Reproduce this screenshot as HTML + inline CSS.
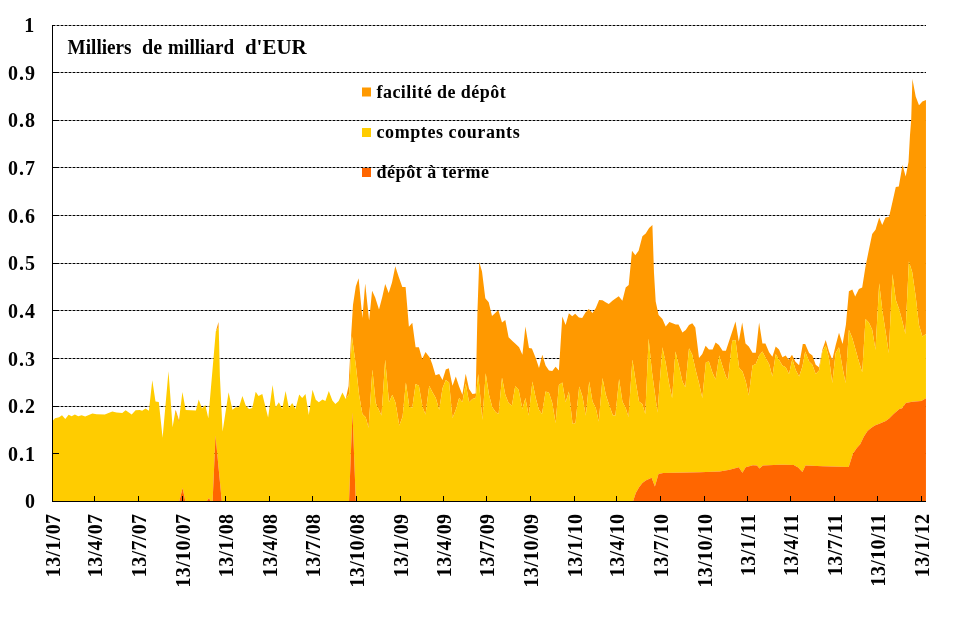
<!DOCTYPE html>
<html><head><meta charset="utf-8"><title>chart</title>
<style>
html,body{margin:0;padding:0;background:#fff;}
body{width:964px;height:620px;overflow:hidden;font-family:"Liberation Serif",serif;}
svg{display:block;}
text{font-family:"Liberation Serif",serif;font-weight:bold;fill:#000;}
</style></head><body>
<svg width="964" height="620" viewBox="0 0 964 620">
<rect width="964" height="620" fill="#fff"/>

<g stroke="#d4d4d4" stroke-width="1" shape-rendering="crispEdges">
<line x1="52.5" y1="25.5" x2="926" y2="25.5"/>
<line x1="52.5" y1="72.5" x2="926" y2="72.5"/>
<line x1="52.5" y1="120.5" x2="926" y2="120.5"/>
<line x1="52.5" y1="167.5" x2="926" y2="167.5"/>
<line x1="52.5" y1="215.5" x2="926" y2="215.5"/>
<line x1="52.5" y1="263.5" x2="926" y2="263.5"/>
<line x1="52.5" y1="310.5" x2="926" y2="310.5"/>
<line x1="52.5" y1="358.5" x2="926" y2="358.5"/>
<line x1="52.5" y1="406.5" x2="926" y2="406.5"/>
<line x1="52.5" y1="453.5" x2="926" y2="453.5"/>
</g>
<g stroke="#000" stroke-width="1" stroke-dasharray="2.6 1.4">
<line x1="52.7" y1="25.5" x2="926" y2="25.5"/>
<line x1="52.7" y1="72.5" x2="926" y2="72.5"/>
<line x1="52.7" y1="120.5" x2="926" y2="120.5"/>
<line x1="52.7" y1="167.5" x2="926" y2="167.5"/>
<line x1="52.7" y1="215.5" x2="926" y2="215.5"/>
<line x1="52.7" y1="263.5" x2="926" y2="263.5"/>
<line x1="52.7" y1="310.5" x2="926" y2="310.5"/>
<line x1="52.7" y1="358.5" x2="926" y2="358.5"/>
<line x1="52.7" y1="406.5" x2="926" y2="406.5"/>
<line x1="52.7" y1="453.5" x2="926" y2="453.5"/>
</g>
<polygon fill="#FF9900" points="345.7,398.9 348.6,386 351.2,334.5 353,304.8 355.8,286.6 358.6,278.3 362.4,318.1 365.2,283.6 369.1,320.6 372.1,290.7 375.2,297.4 379,309.5 382.4,296.5 385.2,284.1 388.7,292.9 392,282.4 395.3,266.3 398.6,276.6 402.3,287.1 405.6,287.1 408.9,326.8 412.3,322.8 415.6,347.2 418.9,347.2 422.2,359.1 425.5,352 429.7,357.4 432.2,364.1 435.5,375.2 439.2,374 442.5,379.9 445.8,369.6 448.8,368.2 452.5,385.7 455.8,376.5 459.1,386.5 462.4,394.8 465.7,373.7 469.1,389 472.4,394 475.7,393.5 477.5,309.8 479.2,262 482,271.6 485.3,298.2 488.7,302.3 492,316 495.2,313 498.3,309.9 502,322.4 505.3,319.9 508.6,337.3 512.4,341.1 515.7,344 519.1,347.3 522.4,354.8 525.4,326.5 529,348.1 531.9,348.4 535.7,358.1 539,368 542.3,354.8 545.6,365.5 549,370.5 552.3,371 555.6,366.7 558.9,370.5 562.3,316.5 565.6,324.9 568.9,313.2 572.2,316.2 575.2,313.7 578.9,317.4 582.2,317.9 585.5,312.4 588.8,309.1 592.5,312.9 595.8,307.9 599.1,299.9 602.5,300.3 605.6,302.2 608.8,304.1 612.4,300.8 615.5,298.5 618.7,296.3 622.4,300.8 625.7,287.5 628.7,285 632,250.7 635.3,255.2 638.6,250.7 642.4,236.3 645.7,233.6 649.1,228 652.4,225 654,273 655.7,301.4 658.6,315 662.4,319.1 665.7,326.6 669.4,321.9 675.7,324.6 678.5,324.6 682.4,332.4 685.7,329.9 689,324.9 692.3,323.3 695.3,327.4 699,358.1 702.3,354 705.6,345.7 708.9,349.5 712.6,349.5 715.6,342.4 718.9,344.9 722.6,350.7 725.9,350.7 735.5,321.6 738.8,341.5 742.2,322.4 745.5,343.5 748.8,346.5 752.5,352.8 755.8,352.8 759.1,322.4 762.4,343.5 765.4,343.5 769.1,352.3 772.4,356.8 775.7,346.5 779,349.5 782.4,357.3 785.7,355.6 788.7,359.8 792,354.8 795.3,361.5 799.1,365.3 802.8,344 805.2,344 809.1,353.1 812.4,355.6 815.7,364.7 819,367.2 822.4,349.8 825.7,340.1 829,351.4 832.3,359.7 835.6,345.6 839,332.8 842.6,343.9 845.9,324.8 848.9,291.3 852.3,289.6 855.2,296.6 858.9,289.1 862.2,287.5 865.5,266.4 868.9,249.8 872.2,234 875.5,229.8 879.2,217.5 882.2,224.9 885.5,217.4 889.1,216.8 892.5,201.8 895.8,187 898.8,186.4 902.5,165 905.7,176.5 908.5,162 910,135 911.2,119.8 912.4,79.1 915.7,96.6 919,105.2 922.4,101.6 925.95,99.9 925.95,334 922.4,336.5 919,324.9 915.7,296.6 912.2,272 908.9,261.4 905.4,334 902.4,321.5 899.1,309 895.8,300 892.5,273.9 888.8,353.1 885.8,333.1 882.5,311.6 879.2,283.3 875.5,349.8 872.2,329.8 868.9,322.4 865.5,319 862.2,372.2 858.9,361.4 855.6,349.8 852.3,338.1 848.9,329.8 845.6,383 842.3,366.4 839,347.3 835.6,353.1 832.3,383 829,358.1 825.7,345.6 822.4,351.4 819,370.5 815.7,373.9 812.4,364.7 809.1,361.4 805.2,351.4 802.4,366.4 799.1,376.4 795.6,369.8 792.3,359 789,373.9 785.7,367.3 782.4,365.6 779,359.8 775.7,354 772.4,376.4 769.1,364 765.7,358.1 762.4,351.5 759.1,355.6 755.8,364 752.5,365.6 748.8,395.5 745.8,381.4 742.5,371.4 739.2,368.1 735.5,339.9 732.2,340.7 728,379.7 725.9,376.4 722.6,366.4 719.2,355.6 715.6,379.4 712.6,373.1 708.9,361.5 705.9,362.3 702.3,398 699,383 695.6,369.8 692.3,354.8 689,348.2 685.3,387.2 682.4,381.4 678.7,364.8 675.4,351.5 672.1,398 669,383 665.7,363.1 662.4,347.3 657.5,412.5 652,372 648.6,338.6 645.3,414 642.3,404 639,401.5 635.7,381.5 632.4,359.6 628.5,417 625.7,408.1 622.4,401.5 619.1,379 615.4,415.6 612.9,415.6 609.1,404.8 605.8,394.8 602.5,377.9 598.8,421.4 595.8,408.1 592.5,401.5 589.2,381.5 585.8,415.6 582.5,396.5 579.2,386.5 575.5,423.1 572.6,423.9 568.9,391.5 565.6,402.3 562.3,382.4 558.9,384.9 555.6,423.1 552.3,403.1 549,392.8 545.6,391.5 542,413.9 539,409.8 535.7,398.1 532.4,381.5 528.7,415.6 525.4,398.1 522.4,408.9 518.6,389.8 515.2,386.2 511.9,405.6 508.6,403.1 505.3,394.8 502,377.4 498.6,413.9 495.8,412.3 492.3,407.3 489,394.8 485.7,373.2 482.4,419.7 478.2,374.1 475.7,398.1 472.4,399 469.1,402.3 465.7,383.5 462.4,402.3 459.1,398.1 455.8,409.8 452.5,418.1 449.1,382.4 445.8,379.9 442.5,388.2 439.2,409.8 435.8,398.1 432.5,392.3 429.2,385.7 425.5,414.4 422.6,407.3 418.9,385.7 415.6,384 412.3,407.8 409.3,406.4 405.9,382.4 402.6,416.4 399.3,425.5 395.6,403.1 392.3,394.8 389,402.3 385.2,359.6 381.5,415.6 378.5,409 375.7,403.1 372.4,369.6 368.6,427.7 365.7,417.2 362.4,413.9 359.1,394.8 355.8,365 351.9,336 349.1,394 345.7,398.9"/>
<polygon fill="#FF9900" points="215.8,331.6 218.5,322 219.9,376.4 218.7,327"/>
<polygon fill="#FFCC00" points="52.5,501.5 52.5,421 55,418.2 59.1,417.3 62,415.3 65.3,419 68.6,414.8 71.6,416.2 74.9,414.5 78.2,416.2 81.6,415.2 85.2,416.5 92.4,413.5 96.5,414.3 104.8,414.5 112.3,411.5 116.5,412.5 122.3,412.9 125.6,410.2 131.7,414.5 135.6,410.2 139.7,409.9 142.2,410.7 145.5,408.5 148.9,410.7 152.3,380.3 155.5,401.6 158.8,401.9 162.6,437.8 168.5,371.3 172.6,427.3 175.4,410.7 178.8,421.5 182.4,391.9 185.7,409.9 195.9,410.4 198.7,399.6 202,408.5 205.3,404.9 208.3,418.3 215.8,331.6 218.7,327 219.9,376.5 222.6,431.6 228.6,392.2 232.4,409.7 235.7,407.2 239,407.2 242.4,396.1 245.7,405.5 249,408.9 252.3,408 255.7,391.7 258.5,396.1 262.3,393.9 268.1,417.4 272.6,385.1 275.6,407.2 278.9,402.2 282.2,408.9 285.6,390.9 288.9,408 292.2,403 295.5,408.9 299.2,394.4 302.2,398.1 305.5,393.9 308.8,415 312.5,389.8 315.8,399.7 318.8,402.2 322.5,399.4 325.4,401 328.8,391.1 332.4,400.6 335.4,403.9 338.7,401 342.4,392.6 345.7,398.9 349.1,394 351.9,336 355.8,365 359.1,394.8 362.4,413.9 365.7,417.2 368.6,427.7 372.4,369.6 375.7,403.1 378.5,409 381.5,415.6 385.2,359.6 389,402.3 392.3,394.8 395.6,403.1 399.3,425.5 402.6,416.4 405.9,382.4 409.3,406.4 412.3,407.8 415.6,384 418.9,385.7 422.6,407.3 425.5,414.4 429.2,385.7 432.5,392.3 435.8,398.1 439.2,409.8 442.5,388.2 445.8,379.9 449.1,382.4 452.5,418.1 455.8,409.8 459.1,398.1 462.4,402.3 465.7,383.5 469.1,402.3 472.4,399 475.7,398.1 478.2,374.1 482.4,419.7 485.7,373.2 489,394.8 492.3,407.3 495.8,412.3 498.6,413.9 502,377.4 505.3,394.8 508.6,403.1 511.9,405.6 515.2,386.2 518.6,389.8 522.4,408.9 525.4,398.1 528.7,415.6 532.4,381.5 535.7,398.1 539,409.8 542,413.9 545.6,391.5 549,392.8 552.3,403.1 555.6,423.1 558.9,384.9 562.3,382.4 565.6,402.3 568.9,391.5 572.6,423.9 575.5,423.1 579.2,386.5 582.5,396.5 585.8,415.6 589.2,381.5 592.5,401.5 595.8,408.1 598.8,421.4 602.5,377.9 605.8,394.8 609.1,404.8 612.9,415.6 615.4,415.6 619.1,379 622.4,401.5 625.7,408.1 628.5,417 632.4,359.6 635.7,381.5 639,401.5 642.3,404 645.3,414 648.6,338.6 652,372 657.5,412.5 662.4,347.3 665.7,363.1 669,383 672.1,398 675.4,351.5 678.7,364.8 682.4,381.4 685.3,387.2 689,348.2 692.3,354.8 695.6,369.8 699,383 702.3,398 705.9,362.3 708.9,361.5 712.6,373.1 715.6,379.4 719.2,355.6 722.6,366.4 725.9,376.4 728,379.7 732.2,340.7 735.5,339.9 739.2,368.1 742.5,371.4 745.8,381.4 748.8,395.5 752.5,365.6 755.8,364 759.1,355.6 762.4,351.5 765.7,358.1 769.1,364 772.4,376.4 775.7,354 779,359.8 782.4,365.6 785.7,367.3 789,373.9 792.3,359 795.6,369.8 799.1,376.4 802.4,366.4 805.2,351.4 809.1,361.4 812.4,364.7 815.7,373.9 819,370.5 822.4,351.4 825.7,345.6 829,358.1 832.3,383 835.6,353.1 839,347.3 842.3,366.4 845.6,383 848.9,329.8 852.3,338.1 855.6,349.8 858.9,361.4 862.2,372.2 865.5,319 868.9,322.4 872.2,329.8 875.5,349.8 879.2,283.3 882.5,311.6 885.8,333.1 888.8,353.1 892.5,273.9 895.8,300 899.1,309 902.4,321.5 905.4,334 908.9,261.4 912.2,272 915.7,296.6 919,324.9 922.4,336.5 925.95,334 925.95,398.2 921.3,400.9 912.2,401.8 905.8,403.1 902.1,408.2 899.4,409.1 893.9,413.7 889.4,418.2 885.7,421 879.3,423.7 874.8,425.5 871.1,427.9 867.5,431 863.9,436.5 860.2,444.3 856.6,448.3 852.9,453.8 848.7,466.9 822.9,466.2 805.5,465.6 802.4,472 798.2,467.5 793.7,465.1 783.7,464.7 779.1,464.8 762.9,465.6 759.5,468.4 757,465.6 752.9,465.3 745.7,467.3 742.4,472.8 738.8,467.3 729.6,469.8 719.7,471.4 699.7,472.3 663.2,473.1 658.5,473.9 654.9,486.4 651.6,477.7 645.7,480.6 642.4,483.1 639.1,487.2 635.8,493 633,501.5 355.8,501.5 352.5,412.5 349,501.5 221.8,501.5 215.5,435.4 212.6,501.5 211,501.5 208.9,498 206.6,501.5 185.4,501.5 182.6,488.1 179.2,501.5"/>
<line x1="175.5" y1="410.6" x2="178.9" y2="421.3" stroke="#FF9900" stroke-width="0.8"/>
<polygon fill="#FF6600" points="179.2,501.5 182.6,488.1 185.4,501.5 206.6,501.5 208.9,498 211,501.5 212.6,501.5 215.5,435.4 221.8,501.5 349,501.5 352.5,412.5 355.8,501.5 633,501.5 635.8,493 639.1,487.2 642.4,483.1 645.7,480.6 651.6,477.7 654.9,486.4 658.5,473.9 663.2,473.1 699.7,472.3 719.7,471.4 729.6,469.8 738.8,467.3 742.4,472.8 745.7,467.3 752.9,465.3 757,465.6 759.5,468.4 762.9,465.6 779.1,464.8 783.7,464.7 793.7,465.1 798.2,467.5 802.4,472 805.5,465.6 822.9,466.2 848.7,466.9 852.9,453.8 856.6,448.3 860.2,444.3 863.9,436.5 867.5,431 871.1,427.9 874.8,425.5 879.3,423.7 885.7,421 889.4,418.2 893.9,413.7 899.4,409.1 902.1,408.2 905.8,403.1 912.2,401.8 921.3,400.9 925.95,398.2 925.95,501.5"/>
<g stroke="#000" stroke-width="1" shape-rendering="crispEdges">
<line x1="52.5" y1="25" x2="52.5" y2="502"/>
<line x1="52" y1="501.5" x2="926" y2="501.5"/>
<line x1="52.5" y1="72.5" x2="58.5" y2="72.5"/>
<line x1="52.5" y1="120.5" x2="58.5" y2="120.5"/>
<line x1="52.5" y1="167.5" x2="58.5" y2="167.5"/>
<line x1="52.5" y1="215.5" x2="58.5" y2="215.5"/>
<line x1="52.5" y1="263.5" x2="58.5" y2="263.5"/>
<line x1="52.5" y1="310.5" x2="58.5" y2="310.5"/>
<line x1="52.5" y1="358.5" x2="58.5" y2="358.5"/>
<line x1="52.5" y1="406.5" x2="58.5" y2="406.5"/>
<line x1="52.5" y1="453.5" x2="58.5" y2="453.5"/>
<line x1="94.5" y1="501.5" x2="94.5" y2="495.5"/>
<line x1="138.5" y1="501.5" x2="138.5" y2="495.5"/>
<line x1="182.5" y1="501.5" x2="182.5" y2="495.5"/>
<line x1="225.5" y1="501.5" x2="225.5" y2="495.5"/>
<line x1="269.5" y1="501.5" x2="269.5" y2="495.5"/>
<line x1="312.5" y1="501.5" x2="312.5" y2="495.5"/>
<line x1="356.5" y1="501.5" x2="356.5" y2="495.5"/>
<line x1="400.5" y1="501.5" x2="400.5" y2="495.5"/>
<line x1="443.5" y1="501.5" x2="443.5" y2="495.5"/>
<line x1="486.5" y1="501.5" x2="486.5" y2="495.5"/>
<line x1="530.5" y1="501.5" x2="530.5" y2="495.5"/>
<line x1="574.5" y1="501.5" x2="574.5" y2="495.5"/>
<line x1="616.5" y1="501.5" x2="616.5" y2="495.5"/>
<line x1="660.5" y1="501.5" x2="660.5" y2="495.5"/>
<line x1="704.5" y1="501.5" x2="704.5" y2="495.5"/>
<line x1="747.5" y1="501.5" x2="747.5" y2="495.5"/>
<line x1="790.5" y1="501.5" x2="790.5" y2="495.5"/>
<line x1="834.5" y1="501.5" x2="834.5" y2="495.5"/>
<line x1="877.5" y1="501.5" x2="877.5" y2="495.5"/>
<line x1="921.5" y1="501.5" x2="921.5" y2="495.5"/>
</g>
<g opacity="0.999">
<text x="35.1" y="32" font-size="20" text-anchor="end" letter-spacing="0.95">1</text>
<text x="35.9" y="79.8" font-size="20" text-anchor="end" letter-spacing="0.95">0.9</text>
<text x="35.9" y="127" font-size="20" text-anchor="end" letter-spacing="0.95">0.8</text>
<text x="35.9" y="174.8" font-size="20" text-anchor="end" letter-spacing="0.95">0.7</text>
<text x="35.9" y="223" font-size="20" text-anchor="end" letter-spacing="0.95">0.6</text>
<text x="35.9" y="270" font-size="20" text-anchor="end" letter-spacing="0.95">0.5</text>
<text x="35.9" y="318" font-size="20" text-anchor="end" letter-spacing="0.95">0.4</text>
<text x="35.9" y="365.8" font-size="20" text-anchor="end" letter-spacing="0.95">0.3</text>
<text x="35.9" y="413" font-size="20" text-anchor="end" letter-spacing="0.95">0.2</text>
<text x="35.9" y="461" font-size="20" text-anchor="end" letter-spacing="0.95">0.1</text>
<text x="35.9" y="508" font-size="20" text-anchor="end" letter-spacing="0.95">0</text>
<text transform="translate(59.8,513.6) rotate(-90)" font-size="20" text-anchor="end" letter-spacing="0.35">13/1/07</text>
<text transform="translate(101.8,513.6) rotate(-90)" font-size="20" text-anchor="end" letter-spacing="0.35">13/4/07</text>
<text transform="translate(145.8,513.6) rotate(-90)" font-size="20" text-anchor="end" letter-spacing="0.35">13/7/07</text>
<text transform="translate(189.8,513.6) rotate(-90)" font-size="20" text-anchor="end" letter-spacing="0.35">13/10/07</text>
<text transform="translate(232.8,513.6) rotate(-90)" font-size="20" text-anchor="end" letter-spacing="0.35">13/1/08</text>
<text transform="translate(276.8,513.6) rotate(-90)" font-size="20" text-anchor="end" letter-spacing="0.35">13/4/08</text>
<text transform="translate(319.8,513.6) rotate(-90)" font-size="20" text-anchor="end" letter-spacing="0.35">13/7/08</text>
<text transform="translate(363.8,513.6) rotate(-90)" font-size="20" text-anchor="end" letter-spacing="0.35">13/10/08</text>
<text transform="translate(407.8,513.6) rotate(-90)" font-size="20" text-anchor="end" letter-spacing="0.35">13/1/09</text>
<text transform="translate(450.8,513.6) rotate(-90)" font-size="20" text-anchor="end" letter-spacing="0.35">13/4/09</text>
<text transform="translate(493.8,513.6) rotate(-90)" font-size="20" text-anchor="end" letter-spacing="0.35">13/7/09</text>
<text transform="translate(537.8,513.6) rotate(-90)" font-size="20" text-anchor="end" letter-spacing="0.35">13/10/09</text>
<text transform="translate(581.8,513.6) rotate(-90)" font-size="20" text-anchor="end" letter-spacing="0.35">13/1/10</text>
<text transform="translate(623.8,513.6) rotate(-90)" font-size="20" text-anchor="end" letter-spacing="0.35">13/4/10</text>
<text transform="translate(667.8,513.6) rotate(-90)" font-size="20" text-anchor="end" letter-spacing="0.35">13/7/10</text>
<text transform="translate(711.8,513.6) rotate(-90)" font-size="20" text-anchor="end" letter-spacing="0.35">13/10/10</text>
<text transform="translate(754.8,513.6) rotate(-90)" font-size="20" text-anchor="end" letter-spacing="0.35">13/1/11</text>
<text transform="translate(797.8,513.6) rotate(-90)" font-size="20" text-anchor="end" letter-spacing="0.35">13/4/11</text>
<text transform="translate(841.8,513.6) rotate(-90)" font-size="20" text-anchor="end" letter-spacing="0.35">13/7/11</text>
<text transform="translate(884.8,513.6) rotate(-90)" font-size="20" text-anchor="end" letter-spacing="0.35">13/10/11</text>
<text transform="translate(928.8,513.6) rotate(-90)" font-size="20" text-anchor="end" letter-spacing="0.35">13/1/12</text>
<text x="67.6" y="53.6" font-size="20" textLength="64" lengthAdjust="spacingAndGlyphs">Milliers</text>
<text x="142" y="53.6" font-size="20" textLength="20.2" lengthAdjust="spacingAndGlyphs">de</text>
<text x="168.1" y="53.6" font-size="20" textLength="66" lengthAdjust="spacingAndGlyphs">milliard</text>
<text x="244.9" y="53.6" font-size="20" textLength="61.8" lengthAdjust="spacingAndGlyphs">d'EUR</text>
<text x="376.5" y="97.8" font-size="18" letter-spacing="0.45">facilité de dépôt</text>
<text x="376.5" y="138.3" font-size="18" letter-spacing="0.58">comptes courants</text>
<text x="376.5" y="178.3" font-size="18" letter-spacing="0.55">dépôt à terme</text>
</g>
<rect x="362" y="87.5" width="9" height="9" fill="#FF9900"/>
<rect x="362" y="128" width="9" height="9" fill="#FFCC00"/>
<rect x="362" y="168" width="9" height="9" fill="#FF6600"/>
</svg></body></html>
